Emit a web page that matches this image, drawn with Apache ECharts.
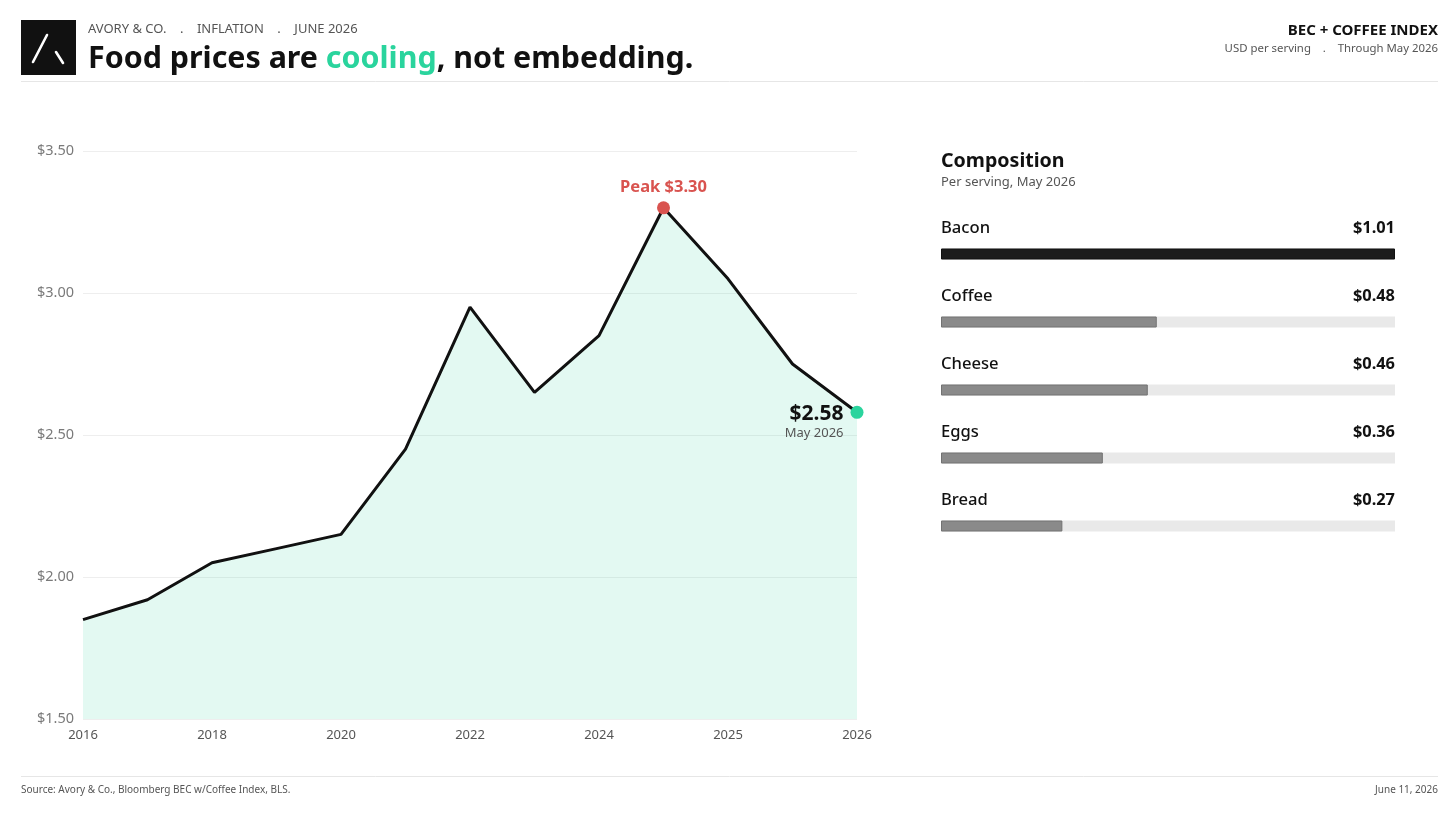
<!DOCTYPE html>
<html>
<head>
<meta charset="utf-8">
<script src="https://cdn.jsdelivr.net/npm/echarts@6/dist/echarts.min.js"></script>
<style>
html,body{margin:0;padding:0;background:#fff;}
#chart{width:1456px;height:819px;}
</style>
</head>
<body>
<div id="chart"></div>
<script>
// ---- Data ----
const periods = ["2016","2017","2018","2019","2020","2021","2022","2023","2024","H2 2024","2025","H2 2025","2026"];
const indexValues = [1.85, 1.92, 2.05, 2.10, 2.15, 2.45, 2.95, 2.65, 2.85, 3.30, 3.05, 2.75, 2.58];
const yTicks = [1.5, 2.0, 2.5, 3.0, 3.5];
const compNames = ["Bacon","Coffee","Cheese","Eggs","Bread"];
const compValues = [1.01, 0.48, 0.46, 0.36, 0.27];

const FONT = '"Noto Sans", "DejaVu Sans", sans-serif';
const GREEN = '#2ad49d';
const RED = '#d9534f';

const peakIdx = indexValues.indexOf(Math.max(...indexValues));
const lastIdx = indexValues.length - 1;
const compMax = Math.max(...compValues);

const chart = echarts.init(document.getElementById('chart'), null, {renderer: 'canvas'});

const option = {
  animation: false,
  textStyle: {fontFamily: FONT},
  grid: [
    {left: 83, right: 599, top: 151, bottom: 100},
    {left: 941, right: 61, top: 220, bottom: 259}
  ],
  xAxis: [
    {
      type: 'category', gridIndex: 0, data: periods, boundaryGap: false,
      axisLine: {show: false}, axisTick: {show: false},
      axisLabel: {interval: 1, color: '#555', fontSize: 13, margin: 10, fontFamily: FONT},
      splitLine: {show: false}
    },
    {type: 'value', gridIndex: 1, min: 0, max: compMax, show: false}
  ],
  yAxis: [
    {
      type: 'value', gridIndex: 0, min: yTicks[0], max: yTicks[yTicks.length-1], interval: 0.5,
      axisLine: {show: false}, axisTick: {show: false},
      axisLabel: {color: '#7a7a7a', fontSize: 14.5, margin: 9, fontFamily: FONT,
        formatter: v => '$' + v.toFixed(2)},
      splitLine: {lineStyle: {color: '#eeeeee', width: 1}}
    },
    {type: 'category', gridIndex: 1, data: compNames, inverse: true, show: false}
  ],
  series: [
    {
      type: 'line', xAxisIndex: 0, yAxisIndex: 0, data: indexValues,
      symbol: 'none', lineStyle: {color: '#111', width: 3}, z: 3,
      areaStyle: {color: 'rgba(42,212,157,0.13)', opacity: 1}
    },
    {
      type: 'scatter', xAxisIndex: 0, yAxisIndex: 0, z: 5,
      symbolSize: 13,
      itemStyle: {opacity: 1},
      data: [
        {value: [periods[peakIdx], indexValues[peakIdx]], itemStyle: {color: RED, opacity: 1},
          label: {show: true, position: 'top', distance: 6, color: RED, fontWeight: 'bold', fontSize: 16.5,
            fontFamily: FONT, formatter: () => 'Peak $' + indexValues[peakIdx].toFixed(2)}},
        {value: [periods[lastIdx], indexValues[lastIdx]], itemStyle: {color: GREEN, opacity: 1},
          label: {show: true, position: 'left', distance: 7, offset: [0, 10], align: 'right',
            formatter: () => '{v|$' + indexValues[lastIdx].toFixed(2) + '}\n{d|May 2026}',
            rich: {
              v: {fontSize: 21, fontWeight: 'bold', color: '#111', fontFamily: FONT, align: 'right', lineHeight: 22},
              d: {fontSize: 13, color: '#555', fontFamily: FONT, align: 'right', lineHeight: 17}
            }}}
      ]
    },
    {
      type: 'bar', xAxisIndex: 1, yAxisIndex: 1, barWidth: 11, z: 2,
      data: compValues.map(() => compMax),
      itemStyle: {color: '#e9e9e9'},
      silent: true,
      label: {show: true, position: ['100%', -20], align: 'right', verticalAlign: 'middle',
        color: '#111', fontSize: 16.4, fontWeight: 'bold', fontFamily: FONT,
        formatter: p => '$' + compValues[p.dataIndex].toFixed(2)}
    },
    {
      type: 'bar', xAxisIndex: 1, yAxisIndex: 1, barWidth: 11, barGap: '-100%', z: 3,
      data: compValues.map((v, i) => ({value: v, itemStyle: i === 0 ? {color: '#1c1c1c', borderColor: '#111', borderWidth: 1} : {color: '#8a8a8a', borderColor: '#727272', borderWidth: 1}})),
      label: {show: true, position: [0, -20], align: 'left', verticalAlign: 'middle',
        color: '#111', fontSize: 16.6, fontWeight: 500, fontFamily: FONT,
        formatter: p => compNames[p.dataIndex]}
    }
  ],
  graphic: [
    // header logo
    {type: 'rect', left: 21, top: 20, shape: {width: 55, height: 55}, style: {fill: '#111'}},
    {type: 'line', shape: {x1: 33, y1: 62, x2: 47, y2: 35}, style: {stroke: '#fff', lineWidth: 2.6, lineCap: 'round'}},
    {type: 'line', shape: {x1: 56, y1: 52, x2: 63, y2: 63}, style: {stroke: '#fff', lineWidth: 2.6, lineCap: 'round'}},
    // header text
    {type: 'text', left: 88, top: 23, style: {text: 'AVORY & CO.    .    INFLATION    .    JUNE 2026', fill: '#555', font: '13px ' + FONT}},
    {type: 'text', left: 88, top: 44, style: {
      text: '{a|Food prices are }{b|cooling}{a|, not embedding.}',
      rich: {
        a: {fontSize: 30.4, fontWeight: 'bold', fill: '#111', fontFamily: FONT, lineHeight: 40},
        b: {fontSize: 30.4, fontWeight: 'bold', fill: GREEN, fontFamily: FONT, lineHeight: 40}
      }}},
    {type: 'text', right: 18, top: 23, style: {text: 'BEC + COFFEE INDEX', fill: '#111', font: 'bold 15px ' + FONT, textAlign: 'right'}},
    {type: 'text', right: 18, top: 43, style: {text: 'USD per serving    .    Through May 2026', fill: '#555', font: '11.4px ' + FONT, textAlign: 'right'}},
    {type: 'line', shape: {x1: 21, y1: 81.5, x2: 1438, y2: 81.5}, style: {stroke: '#e6e6e6', lineWidth: 1}},
    // composition header
    {type: 'text', left: 941, top: 151, style: {text: 'Composition', fill: '#111', font: 'bold 19.6px ' + FONT}},
    {type: 'text', left: 941, top: 176, style: {text: 'Per serving, May 2026', fill: '#555', font: '13px ' + FONT}},
    // footer
    {type: 'line', shape: {x1: 21, y1: 776.5, x2: 1438, y2: 776.5}, style: {stroke: '#e6e6e6', lineWidth: 1}},
    {type: 'text', left: 21, top: 785, style: {text: 'Source: Avory & Co., Bloomberg BEC w/Coffee Index, BLS.', fill: '#555', font: '10px ' + FONT}},
    {type: 'text', right: 18, top: 785, style: {text: 'June 11, 2026', fill: '#555', font: '10px ' + FONT, textAlign: 'right'}}
  ]
};
chart.setOption(option);
</script>
</body>
</html>
